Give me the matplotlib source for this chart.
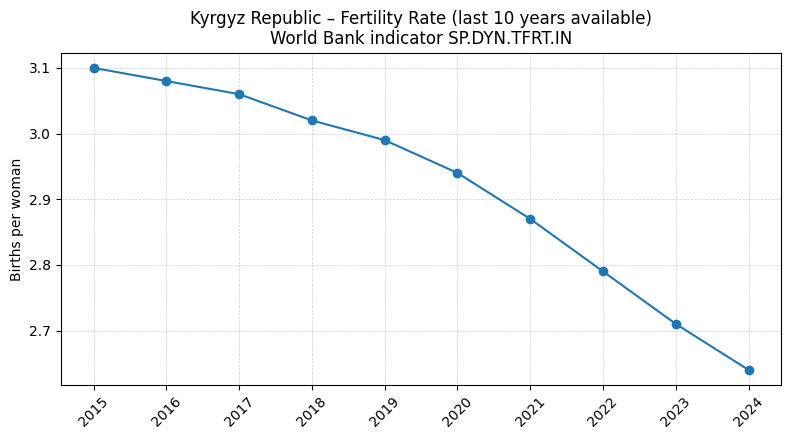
import matplotlib
matplotlib.use("Agg")
import matplotlib.pyplot as plt

years = [2015, 2016, 2017, 2018, 2019, 2020, 2021, 2022, 2023, 2024]
fertility = [3.10, 3.08, 3.06, 3.02, 2.99, 2.94, 2.87, 2.79, 2.71, 2.64]

fig, ax = plt.subplots(figsize=(7.9, 4.4), dpi=100)
ax.plot(years, fertility, marker="o", color="#1f77b4")
ax.set_title("Kyrgyz Republic – Fertility Rate (last 10 years available)\nWorld Bank indicator SP.DYN.TFRT.IN")
ax.set_ylabel("Births per woman")
ax.set_xticks(years)
ax.set_xticklabels([str(y) for y in years], rotation=45)
ax.grid(True, linestyle="--", linewidth=0.5, alpha=0.6)
fig.subplots_adjust(left=0.077, right=0.989, top=0.880, bottom=0.125)
fig.savefig("out.png", dpi=100)
